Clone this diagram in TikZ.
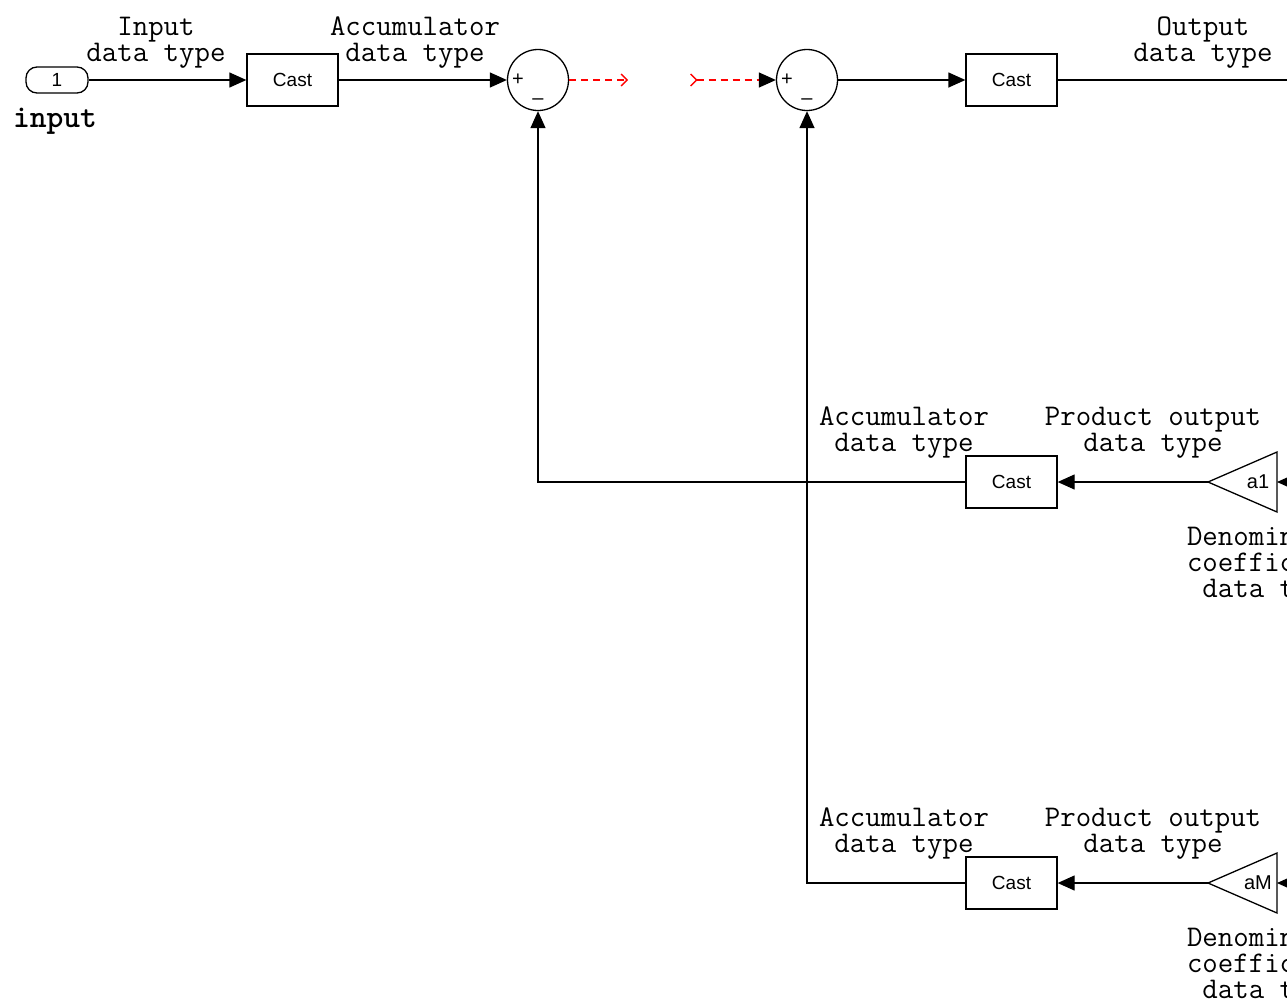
\documentclass[tikz,border=0pt]{standalone}
\usepackage{fontspec}
\usetikzlibrary{arrows.meta}
\newfontfamily\blkfont{Liberation Sans}
\begin{document}
\begin{tikzpicture}
[x=1pt,y=-1pt,>={Triangle[length=17pt,width=15pt]},line width=1.3pt,
cast/.style={draw,rectangle,minimum width=91pt,minimum height=52pt,inner sep=0pt,font=\blkfont\fontsize{19}{19}\selectfont},
sum/.style={draw,circle,minimum size=61pt,inner sep=0pt},
sign/.style={inner sep=0pt,font=\blkfont\fontsize{20}{20}\selectfont},
lbl/.style={align=center,inner sep=0pt,font=\ttfamily\fontsize{30}{26}\selectfont},
sig/.style={draw=red,dash pattern=on 7pt off 5pt},]

%Rows
\def\ya{80}
\def\yb{482}
\def\yc{883}

%Frame
\path[use as bounding box] (0,0) rectangle (1287,999);
\clip (0,0) rectangle (1287,999);

%Top row blocks
\node (I) at (57,\ya)[draw,rounded corners=11pt,minimum width=62pt,minimum height=26pt,inner sep=0pt,font=\blkfont\fontsize{19}{19}\selectfont] {1};
\node (N) at (55,121)[inner sep=0pt,font=\ttfamily\bfseries\fontsize{32}{32}\selectfont] {input};
\node (C1) at (292.5,\ya)[cast] {Cast};
\node (S1) at (538,\ya)[sum] {};
\node (S2) at (807,\ya)[sum] {};
\node (C2) at (1011.5,\ya)[cast] {Cast};
\coordinate (R1) at (628,\ya);
\coordinate (R2) at (690,\ya);
\coordinate (O) at (1300,\ya);

%Signs of the sums
\node at (S1.west)[sign,xshift=11pt] {+};
\node at (S1.south)[sign,yshift=10pt] {–};
\node at (S2.west)[sign,xshift=11pt] {+};
\node at (S2.south)[sign,yshift=10pt] {–};

%First feedback branch
\node (C3) at (1011.5,\yb)[cast] {Cast};
\coordinate (G1t) at (1208,\yb);
\coordinate (G1b) at (1277,\yb);
\coordinate (G1i) at (1300,\yb);
\draw (G1t) -- (1277,\yb-30) -- (1277,\yb+30) -- cycle;
\node (G1) at (1258,\yb)[sign] {a1};

%Last feedback branch
\node (C4) at (1011.5,\yc)[cast] {Cast};
\coordinate (G2t) at (1208,\yc);
\coordinate (G2b) at (1277,\yc);
\coordinate (G2i) at (1300,\yc);
\draw (G2t) -- (1277,\yc-30) -- (1277,\yc+30) -- cycle;
\node (G2) at (1258,\yc)[sign] {aM};

%Labels
\node (L1) at (156,43)[lbl] {Input\\data type};
\node (L2) at (415,43)[lbl] {Accumulator\\data type};
\node (L3) at (1203,43)[lbl] {Output\\data type};
\node (L4) at (904,\yb-49)[lbl] {Accumulator\\data type};
\node (L5) at (1153,\yb-49)[lbl] {Product output\\data type};
\node (L6) at (1272,\yb+84)[lbl] {Denominator\\coefficient\\data type};
\node (L7) at (904,\yc-49)[lbl] {Accumulator\\data type};
\node (L8) at (1153,\yc-49)[lbl] {Product output\\data type};
\node (L9) at (1272,\yc+84)[lbl] {Denominator\\coefficient\\data type};

%Drawing forward path
\draw[->] (I) -- (C1);
\draw[->] (C1) -- (S1);
\draw[sig,-{Straight Barb[length=6pt,width=12pt]}] (S1) -- (R1);
\draw[sig,{Straight Barb[reversed,length=6pt,width=12pt]}-{Triangle[length=17pt,width=15pt,color=black]}] (R2) -- (S2);
\draw[->] (S2) -- (C2);
\draw (C2) -- (O);

%Drawing feedback paths
\draw[->] (G1i) -- (G1b);
\draw[->] (G1t) -- (C3);
\draw[->] (C3) -| (S1);
\draw[->] (G2i) -- (G2b);
\draw[->] (G2t) -- (C4);
\draw[->] (C4) -| (S2);

\end{tikzpicture}
\end{document}
